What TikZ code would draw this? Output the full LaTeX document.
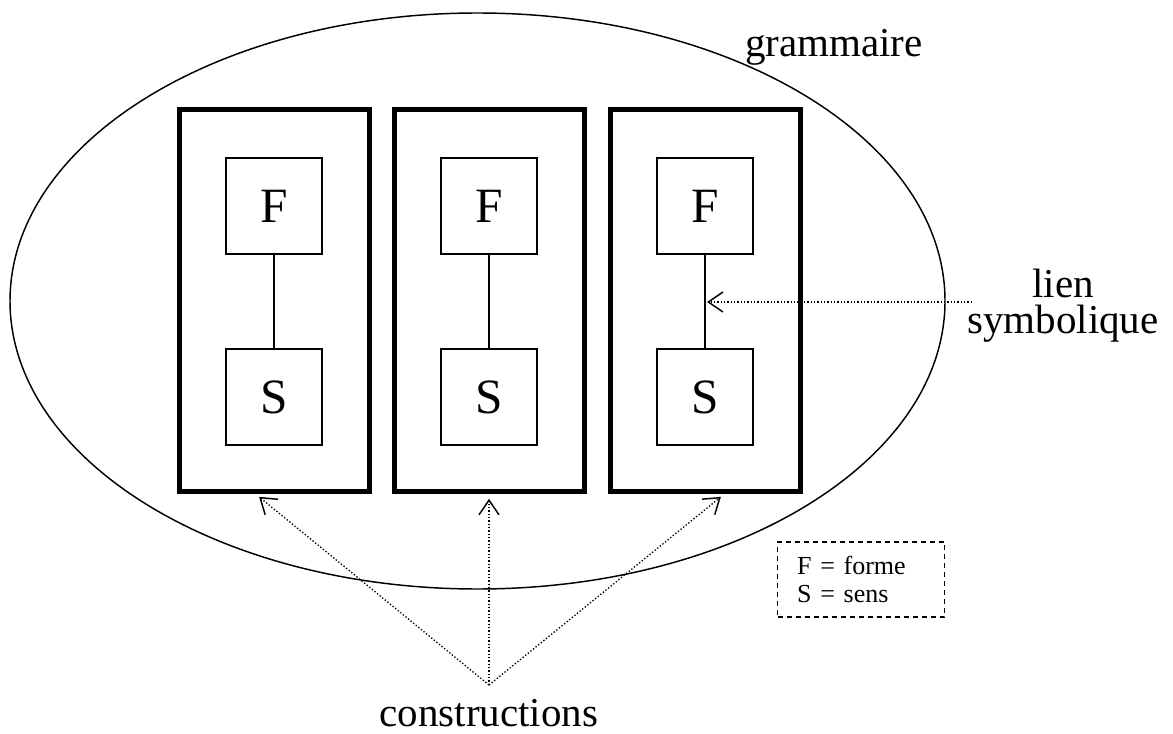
\documentclass[tikz,border=0pt]{standalone}
\usepackage{fontspec}
\setmainfont{Liberation Serif}
\usetikzlibrary{arrows.meta,shapes.geometric}
\tikzset{
  cbox/.style={draw, line width=3.75pt, minimum width=142.5pt, minimum height=285.75pt, inner sep=0pt},
  fsbox/.style={draw, line width=1.1pt, minimum width=72pt, minimum height=72pt, inner sep=0pt, font=\fontsize{37}{40}\selectfont},
  link/.style={line width=1.1pt},
  ptr/.style={line width=1pt, dash pattern=on 1pt off 1.5pt, -{Straight Barb[length=11pt,width=15pt,line width=1.1pt]}},
  biglabel/.style={font=\fontsize{30.75}{27}\selectfont, inner sep=0pt},
  legend/.style={draw, line width=1.1pt, dash pattern=on 3.75pt off 3pt, text width=96pt, inner xsep=14.6pt, inner ysep=0pt, minimum height=56.25pt, align=left, anchor=west, font=\fontsize{19.5}{20.5}\selectfont}
}
\begin{document}
\begin{tikzpicture}[x=0.75pt,y=-0.75pt]
\useasboundingbox (0,0) rectangle (1173,734);
\node[draw, ellipse, line width=1.1pt, minimum width=701.25pt, minimum height=432pt, inner sep=0pt] (gram) at (477.5,301) {};
\node[biglabel, anchor=base] (gtext) at (834,57) {grammaire};
% constructions
\node[cbox] (c1) at (274,300.5) {};
\node[cbox] (c2) at (489,300.5) {};
\node[cbox] (c3) at (705,300.5) {};
\node[fsbox] (f1) at (274,206) {F};
\node[fsbox] (s1) at (274,397) {S};
\node[fsbox] (f2) at (489,206) {F};
\node[fsbox] (s2) at (489,397) {S};
\node[fsbox] (f3) at (705,206) {F};
\node[fsbox] (s3) at (705,397) {S};
\draw[link] (f1) -- (s1);
\draw[link] (f2) -- (s2);
\draw[link] (f3) -- (s3);
% lien symbolique
\node[biglabel, align=center, anchor=base] (lien) at (1063,333) {lien\\symbolique};
\coordinate (lstart) at (972,302);
\coordinate (lend) at (707,302);
\draw[ptr] (lstart) -- (lend);
% constructions label
\node[biglabel, anchor=base] (ctext) at (489,726) {constructions};
\coordinate (conv) at (489,685);
\draw[ptr, shorten >=4pt] (conv) -- ([xshift=-14.25pt]c1.south);
\draw[ptr, shorten >=4pt] (conv) -- (c2.south);
\draw[ptr, shorten >=4pt] (conv) -- ([xshift=15pt]c3.south);
% legend
\node[legend] (leg) at (777,579.5) {F = forme\\S = sens};
\end{tikzpicture}
\end{document}
